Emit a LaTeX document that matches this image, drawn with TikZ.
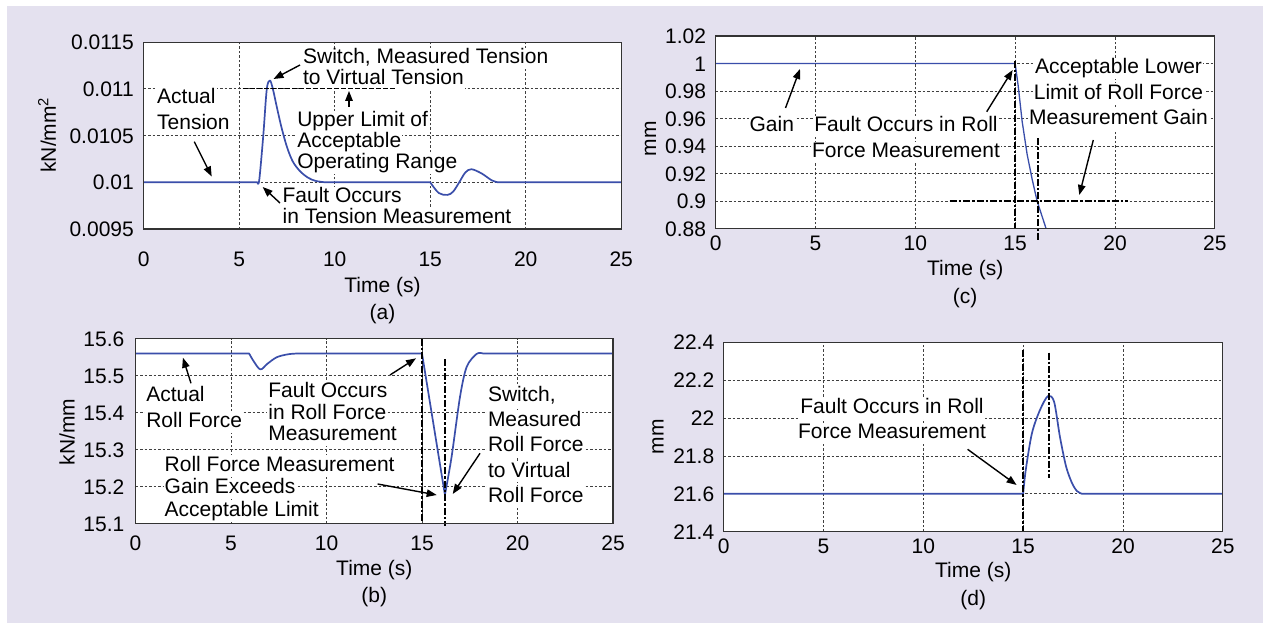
\documentclass[tikz,border=0pt]{standalone}
\usepackage{fontspec}
\setmainfont{Liberation Sans}
\usetikzlibrary{arrows.meta}
\definecolor{lav}{RGB}{228,225,239}
\definecolor{curveblue}{RGB}{58,78,170}
\newcommand\fsk[1]{\fontsize{21}{#1}\selectfont\lineskiplimit=-50pt\relax}
\newcommand\wl[1]{\colorbox{white}{\vphantom{Ag}#1}}
\setlength\fboxsep{1pt}
\begin{document}
\begin{tikzpicture}[x=1pt,y=-1pt,
  gridl/.style={black!75,line width=0.8pt,dash pattern=on 2.5pt off 2pt},
  axbox/.style={black!80,line width=1.2pt},
  bluecurve/.style={curveblue,line width=1.7pt,line join=round},
  mkline/.style={black,line width=1.8pt,dash pattern=on 7pt off 2pt on 2.5pt off 2pt},
  arr/.style={black,line width=1.4pt,-{Triangle[length=10pt,width=7.5pt]}},
  ticklbl/.style={font=\fsk{21},inner sep=0pt},
  lbl/.style={font=\fsk{#1},inner sep=0pt,align=left},
  lbl/.default=21,
  clbl/.style={font=\fsk{#1},inner sep=0pt,align=center},
  clbl/.default=21,
  pa/.style={shift={(143.7,229)},x=19.1pt,y=46.7pt},
  pb/.style={shift={(135.5,523.7)},x=19.1pt,y=37pt},
  pc/.style={shift={(715.6,228.7)},x=19.97pt,y=27.53pt},
  pd/.style={shift={(723.6,531.7)},x=19.97pt,y=37.88pt}]
\useasboundingbox (0,0) rectangle (1267,623);
\fill[white] (0,0) rectangle (1267,623);
\fill[lav] (7,6) rectangle (1263,623);

% ---------- panel backgrounds, grids, tick labels ----------
\begin{scope}[pa]
  \fill[white] (0,0) rectangle (25,4);
  \foreach \t in {5,10,15,20} \draw[gridl] (\t,0) -- (\t,4);
  \foreach \u in {1,2,3} \draw[gridl] (0,\u) -- (25,\u);
  \foreach \t in {0,5,10,15,20,25} \node[ticklbl,anchor=base,yshift=-37.7pt] (ax\t) at (\t,0) {\t};
  \foreach \u/\l in {0/0.0095,1/0.01,2/0.0105,3/0.011,4/0.0115}
    \node[ticklbl,anchor=base east,xshift=-9.7pt,yshift=-7.5pt] (ay\u) at (0,\u) {\l};
\end{scope}
\begin{scope}[pb]
  \fill[white] (0,0) rectangle (25,5);
  \foreach \t in {5,10,15,20} \draw[gridl] (\t,0) -- (\t,5);
  \foreach \u in {1,2,3,4} \draw[gridl] (0,\u) -- (25,\u);
  \foreach \t in {0,5,10,15,20,25} \node[ticklbl,anchor=base,yshift=-27pt] (bx\t) at (\t,0) {\t};
  \foreach \u/\l in {0/15.1,1/15.2,2/15.3,3/15.4,4/15.5,5/15.6}
    \node[ticklbl,anchor=base east,xshift=-11pt,yshift=-7.5pt] (by\u) at (0,\u) {\l};
\end{scope}
\begin{scope}[pc]
  \fill[white] (0,0) rectangle (25,7);
  \foreach \t in {5,10,15,20} \draw[gridl] (\t,0) -- (\t,7);
  \foreach \u in {1,2,3,4,5,6} \draw[gridl] (0,\u) -- (25,\u);
  \foreach \t in {0,5,10,15,20,25} \node[ticklbl,anchor=base,yshift=-22pt] (cx\t) at (\t,0) {\t};
  \foreach \u/\l in {0/0.88,1/0.9,2/0.92,3/0.94,4/0.96,5/0.98,6/1,7/1.02}
    \node[ticklbl,anchor=base east,xshift=-9.3pt,yshift=-7.5pt] (cy\u) at (0,\u) {\l};
\end{scope}
\begin{scope}[pd]
  \fill[white] (0,0) rectangle (25,5);
  \foreach \t in {5,10,15,20} \draw[gridl] (\t,0) -- (\t,5);
  \foreach \u in {1,2,3,4} \draw[gridl] (0,\u) -- (25,\u);
  \foreach \t in {0,5,10,15,20,25} \node[ticklbl,anchor=base,yshift=-21.6pt] (dx\t) at (\t,0) {\t};
  \foreach \u/\l in {0/21.4,1/21.6,2/21.8,3/22,4/22.2,5/22.4}
    \node[ticklbl,anchor=base east,xshift=-9.2pt,yshift=-7.5pt] (dy\u) at (0,\u) {\l};
\end{scope}

% ---------- axis titles and captions ----------
\node[ticklbl,rotate=90] (aY) at (47,135) {kN/mm\textsuperscript{2}};
\node[ticklbl,rotate=90] (bY) at (67,432) {kN/mm};
\node[ticklbl,rotate=90] (cY) at (650.5,139) {mm};
\node[ticklbl,rotate=90] (dY) at (658,436.7) {mm};
\node[ticklbl,anchor=base] (aT) at (382.5,292.5) {Time (s)};
\node[ticklbl,anchor=base] (aC) at (382.5,319) {(a)};
\node[ticklbl,anchor=base] (bT) at (374.3,575.6) {Time (s)};
\node[ticklbl,anchor=base] (bC) at (374.3,602) {(b)};
\node[ticklbl,anchor=base] (cT) at (965.2,275.6) {Time (s)};
\node[ticklbl,anchor=base] (cC) at (965.2,303.5) {(c)};
\node[ticklbl,anchor=base] (dT) at (973.2,577) {Time (s)};
\node[ticklbl,anchor=base] (dC) at (973.2,605.5) {(d)};

% ---------- annotation texts ----------
\node[lbl=21,anchor=north west] (aSwitch) at (301.9,47.5) {\wl{Switch, Measured Tension}\\\wl{to Virtual Tension}};
\node[lbl=21,anchor=north west] (aUpper) at (296.1,110.5) {\wl{Upper Limit of}\\\wl{Acceptable}\\\wl{Operating Range}};
\node[lbl=26,anchor=north west] (aActual) at (156,87.5) {\wl{Actual}\\\wl{Tension}};
\node[lbl=21,anchor=north west] (aFault) at (281.4,186.5) {\wl{Fault Occurs}\\\wl{in Tension Measurement}};

\node[lbl=26.7,anchor=north west] (bActual) at (145.1,384.8) {\wl{Actual}\\\wl{Roll Force}};
\node[lbl=21.3,anchor=north west] (bFault) at (267.2,381.5) {\wl{Fault Occurs}\\\wl{in Roll Force}\\\wl{Measurement}};
\node[lbl=25.3,anchor=north west] (bSwitch) at (486.8,384.8) {\wl{Switch,}\\\wl{Measured}\\\wl{Roll Force}\\\wl{to Virtual}\\\wl{Roll Force}};
\node[lbl=22.5,anchor=north west] (bGain) at (163.5,454.8) {\wl{Roll Force Measurement}\\\wl{Gain Exceeds}\\\wl{Acceptable Limit}};

\node[clbl=21,anchor=north] (cGain) at (771.8,115.5) {\wl{Gain}};
\node[clbl=26,anchor=north] (cFault) at (906,115.5) {\wl{Fault Occurs in Roll}\\\wl{Force Measurement}};
\node[clbl=25.5,anchor=north] (cAccept) at (1118.5,57.5) {\wl{Acceptable Lower}\\\wl{Limit of Roll Force}\\\wl{Measurement Gain}};

\node[clbl=24.7,anchor=north] (dFault) at (892,397.5) {\wl{Fault Occurs in Roll}\\\wl{Force Measurement}};

% ---------- curves ----------
\begin{scope}[pa]
  \draw[bluecurve] (0,1) -- (5.95,1) -- plot[smooth,tension=0.55] coordinates {(5.95,1) (6.05,1.05) (6.26,2) (6.44,2.98) (6.6,3.18) (6.75,3.02) (6.96,2.63) (7.2,2.2) (7.49,1.77) (7.8,1.45) (8.18,1.24) (8.6,1.1) (9,1.03) (9.5,1)} -- (15,1) -- plot[smooth,tension=0.55] coordinates {(15,1) (15.45,0.77) (15.9,0.73) (16.2,0.8) (16.52,1.0) (16.84,1.21) (17.16,1.28) (17.69,1.19) (18.23,1.04) (18.55,1)} -- (25,1);
\end{scope}
\begin{scope}[pb]
  \draw[bluecurve] (0,4.6) -- (5.95,4.6) -- plot[smooth,tension=0.55] coordinates {(5.95,4.6) (6.2,4.38) (6.54,4.17) (6.9,4.32) (7.4,4.5) (8,4.58) (8.5,4.6)} -- (15,4.6) -- (16.2,0.78) -- plot[smooth,tension=0.5] coordinates {(16.2,0.78) (16.55,1.81) (16.99,3.43) (17.34,4.24) (17.86,4.59) (18.2,4.6)} -- (25,4.6);
\end{scope}
\begin{scope}[pc]
  \draw[bluecurve,line width=1.3pt] (0,6) -- (15,6) -- (15.15,5.2) -- (15.35,3.9) -- (15.6,2.7) -- (15.85,1.8) -- (16.1,1.0) -- (16.55,0);
\end{scope}
\begin{scope}[pd]
  \draw[bluecurve] (0,1) -- (15,1) -- plot[smooth,tension=0.5] coordinates {(15,1) (15.13,1.63) (15.44,2.6) (15.84,3.21) (16.24,3.58) (16.55,3.43) (16.84,2.51) (17.15,1.72) (17.45,1.28) (17.7,1.07) (17.95,1)} -- (25,1);
\end{scope}

% ---------- thick dashed marker lines ----------
\coordinate (aL1) at (242.9,88.5); \coordinate (aL2) at (395,88.5);
\draw[mkline,dash pattern=on 5pt off 2pt] (aL1) -- (aL2);
\coordinate (bV1a) at (422,338.7); \coordinate (bV1b) at (422,523.7);
\coordinate (bV2a) at (445.3,359.3); \coordinate (bV2b) at (445.3,526);
\draw[mkline] (bV1a) -- (bV1b);
\draw[mkline] (bV2a) -- (bV2b);
\coordinate (cV1a) at (1015.1,60.7); \coordinate (cV1b) at (1015.1,228.7);
\coordinate (cV2a) at (1037.8,138.3); \coordinate (cV2b) at (1037.8,240);
\coordinate (cH1a) at (949.5,201); \coordinate (cH1b) at (1128.3,201);
\draw[mkline] (cV1a) -- (cV1b);
\draw[mkline] (cV2a) -- (cV2b);
\draw[mkline] (cH1a) -- (cH1b);
\coordinate (dV1a) at (1023.2,350); \coordinate (dV1b) at (1023.2,531.7);
\coordinate (dV2a) at (1049.2,352.7); \coordinate (dV2b) at (1049.2,478.3);
\draw[mkline] (dV1a) -- (dV1b);
\draw[mkline] (dV2a) -- (dV2b);

% ---------- arrows ----------
\coordinate (aA1t) at (300,65);      \coordinate (aA1h) at (273.5,79);
\coordinate (aA2t) at (349,107);     \coordinate (aA2h) at (349,91);
\coordinate (aA3t) at (194.3,141.7); \coordinate (aA3h) at (211.7,176.5);
\coordinate (aA4t) at (280,203);     \coordinate (aA4h) at (262.7,187);
\draw[arr] (aA1t) -- (aA1h);
\draw[arr] (aA2t) -- (aA2h);
\draw[arr] (aA3t) -- (aA3h);
\draw[arr] (aA4t) -- (aA4h);
\coordinate (bA1t) at (191,383.3);   \coordinate (bA1h) at (182.9,357.7);
\coordinate (bA2t) at (390,375);     \coordinate (bA2h) at (416,358.3);
\coordinate (bA3t) at (480,453.3);   \coordinate (bA3h) at (452.7,494);
\coordinate (bA4t) at (377.6,484);   \coordinate (bA4h) at (436.7,495);
\draw[arr] (bA1t) -- (bA1h);
\draw[arr] (bA2t) -- (bA2h);
\draw[arr] (bA3t) -- (bA3h);
\draw[arr] (bA4t) -- (bA4h);
\coordinate (cA1t) at (785.5,108);   \coordinate (cA1h) at (800,69);
\coordinate (cA2t) at (986.7,111.7); \coordinate (cA2h) at (1012.7,70);
\coordinate (cA3t) at (1093.3,140);  \coordinate (cA3h) at (1079.3,195);
\draw[arr] (cA1t) -- (cA1h);
\draw[arr] (cA2t) -- (cA2h);
\draw[arr] (cA3t) -- (cA3h);
\coordinate (dA1t) at (967.6,449.3); \coordinate (dA1h) at (1016.6,485);
\draw[arr] (dA1t) -- (dA1h);

% ---------- axis boxes ----------
\begin{scope}[pa]\draw[axbox] (0,0) rectangle (25,4);\end{scope}
\begin{scope}[pb]\draw[axbox] (0,0) rectangle (25,5);\end{scope}
\begin{scope}[pc]\draw[axbox] (0,0) rectangle (25,7);\end{scope}
\begin{scope}[pd]\draw[axbox] (0,0) rectangle (25,5);\end{scope}
\end{tikzpicture}
\end{document}
